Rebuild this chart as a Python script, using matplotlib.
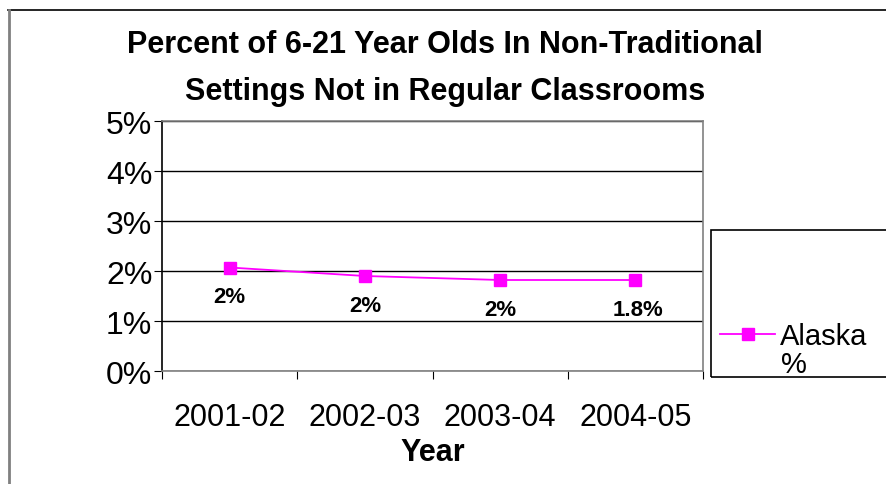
import matplotlib
matplotlib.use('Agg')
import matplotlib.pyplot as plt
from matplotlib.patches import Rectangle
from matplotlib.lines import Line2D

plt.rcParams['font.family'] = ['Liberation Sans', 'DejaVu Sans']

years = ['2001-02', '2002-03', '2003-04', '2004-05']
alaska_pct = [2.07, 1.9, 1.82, 1.82]
point_labels = ['2%', '2%', '2%', '1.8%']
y_ticks = [0, 1, 2, 3, 4, 5]

magenta = '#FF00FF'

fig = plt.figure(figsize=(8.86, 4.85), dpi=100)
ax = fig.add_axes([162 / 886, 1 - 372 / 485, (703 - 162) / 886, 250 / 485])

x = list(range(len(years)))
line, = ax.plot(x, alaska_pct, color=magenta, lw=1.3, marker='s', markersize=9,
                markerfacecolor=magenta, markeredgecolor=magenta, zorder=3)
for xi, yi, lab in zip(x, alaska_pct, point_labels):
    ax.annotate(lab, (xi, yi), xytext=(2 if lab == '1.8%' else 0, -21),
                textcoords='offset points',
                ha='center', va='center', fontsize=16, fontweight='bold')

ax.set_xlim(-0.5, len(years) - 0.5)
ax.set_ylim(0, 5)
ax.set_yticks(y_ticks)
ax.set_yticklabels([f'{v}%' for v in y_ticks], fontsize=23)
ax.yaxis.grid(True, color='black', lw=1)
ax.set_axisbelow(True)

ax.set_xticks([i - 0.5 for i in range(len(years) + 1)])
ax.set_xticklabels([])
ax.set_xticks(x, minor=True)
ax.set_xticklabels(years, minor=True, fontsize=22)
ax.tick_params(axis='x', which='minor', length=0, pad=22)
ax.tick_params(axis='x', which='major', length=6, direction='out', color='black')
ax.tick_params(axis='y', length=6, direction='out', pad=1)
ax.set_xlabel('Year', fontsize=22, fontweight='bold', labelpad=4)

ax.spines['left'].set_color('black')
for s in ['top', 'right', 'bottom']:
    ax.spines[s].set_color('#808080')
for s in ax.spines.values():
    s.set_linewidth(1.2)

fig.text(445 / 886, 1 - 45 / 485, 'Percent of 6-21 Year Olds In Non-Traditional',
         ha='center', va='center', fontsize=22, fontweight='bold')
fig.text(445 / 886, 1 - 92 / 485, 'Settings Not in Regular Classrooms',
         ha='center', va='center', fontsize=22, fontweight='bold')

# legend box
fig.patches.append(Rectangle((711 / 886, 1 - 378 / 485), 0.3, 147 / 485,
                             transform=fig.transFigure, fill=False,
                             edgecolor='black', lw=1.2))
leg = fig.legend([line], ['Alaska'], loc='center left',
                 bbox_to_anchor=(720 / 886, 1 - 337 / 485), frameon=False,
                 fontsize=21, handlelength=1.9, handletextpad=0.15,
                 borderpad=0, borderaxespad=0)
fig.text(781 / 886, 1 - 365 / 485, '%', ha='left', va='center', fontsize=21)

# outer chart border (top and left)
fig.add_artist(Line2D([8 / 886, 1], [1 - 11 / 485, 1 - 11 / 485],
                      transform=fig.transFigure, color='black', lw=1.2))
fig.add_artist(Line2D([9 / 886, 9 / 886], [0, 1 - 11 / 485],
                      transform=fig.transFigure, color='#808080', lw=2))

fig.savefig('out.png', dpi=100)
